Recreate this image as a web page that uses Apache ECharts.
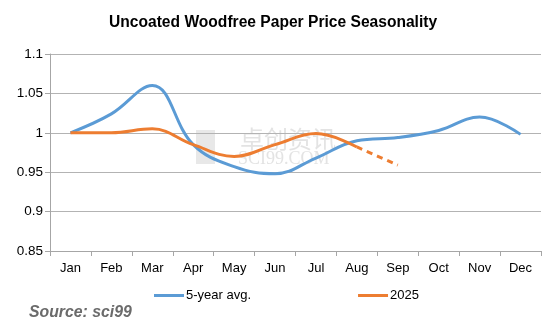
<!DOCTYPE html>
<html><head><meta charset="utf-8">
<script src="https://cdn.jsdelivr.net/npm/echarts@6/dist/echarts.min.js"></script>
<style>html,body{margin:0;padding:0;background:#fff}#c{width:553px;height:326px}</style>
</head><body><div id="c"></div>
<script>
var categories = ['Jan','Feb','Mar','Apr','May','Jun','Jul','Aug','Sep','Oct','Nov','Dec'];
var avg5 = [1.0, 1.024, 1.06, 0.985, 0.957, 0.948, 0.968, 0.99, 0.994, 1.003, 1.02, 0.998];
var y2025 = [1.0, 1.0, 1.005, 0.985, 0.97, 0.985, 0.999, 0.982];
var y2025est = [null, null, null, null, null, null, null, 0.982, 0.959];
var yTicks = [0.85, 0.9, 0.95, 1, 1.05, 1.1];

var chart = echarts.init(document.getElementById('c'));
var font = 'Liberation Sans, Arial, sans-serif';
chart.setOption({
  animation: false,
  title: { text: 'Uncoated Woodfree Paper Price Seasonality', left: 104, top: 10,
    textStyle: { fontFamily: font, fontSize: 15.6, fontWeight: 'bold', color: '#000' } },
  grid: { left: 50, right: 12, top: 54, bottom: 75 },
  xAxis: { type: 'category', data: categories, boundaryGap: true,
    axisLine: { lineStyle: { color: '#a6a6a6' } },
    axisTick: { show: true, alignWithLabel: false, length: 5, lineStyle: { color: '#a6a6a6' } },
    axisLabel: { color: '#000', fontFamily: font, fontSize: 13, margin: 11 } },
  yAxis: { type: 'value', min: 0.85, max: 1.1, interval: 0.05,
    axisLine: { show: true, lineStyle: { color: '#a6a6a6' } },
    axisTick: { show: true, length: 5, lineStyle: { color: '#a6a6a6' } },
    splitLine: { lineStyle: { color: '#b3b3b3' } },
    axisLabel: { color: '#000', fontFamily: font, fontSize: 13.5, margin: 7,
      formatter: function (v) { var t = yTicks.find(function (k) { return Math.abs(k - v) < 1e-6; }); return t === undefined ? '' : String(t); } } },
  legend: { bottom: 19, left: 149, itemGap: 107, itemWidth: 30, itemHeight: 3,
    textStyle: { fontFamily: font, fontSize: 13, color: '#000', padding: [0, 0, 0, -3] },
    data: [{ name: '5-year avg.', icon: 'rect' }, { name: '2025', icon: 'rect' }] },
  graphic: [
    { type: 'text', left: 29, top: 305, style: { text: 'Source: sci99', font: 'italic bold 15.8px ' + font, fill: '#6b6b6b' } },
    { type: 'rect', left: 196, top: 130, z: 0, shape: { width: 19, height: 34 }, style: { fill: 'rgba(205,205,205,0.45)' } },
    { type: 'text', left: 240, top: 127, z: 0, style: { text: '\u5353\u521b\u8d44\u8baf', font: '24px Noto Sans CJK SC', fill: 'rgba(200,200,200,0.5)' } },
    { type: 'text', left: 238, top: 150, z: 0, style: { text: 'SCI99.COM', font: '18px Liberation Serif', fill: 'rgba(200,200,200,0.5)' } }
  ],
  series: [
    { name: '5-year avg.', type: 'line', data: avg5, smooth: 0.4, showSymbol: false, symbol: 'none',
      lineStyle: { width: 3, color: '#5b9bd5' }, itemStyle: { color: '#5b9bd5' } },
    { name: '2025', type: 'line', data: y2025, smooth: 0.4, showSymbol: false, symbol: 'none',
      lineStyle: { width: 3, color: '#ed7d31' }, itemStyle: { color: '#ed7d31' } },
    { name: '2025est', type: 'line', data: y2025est, smooth: 0.4, showSymbol: false, symbol: 'none',
      lineStyle: { width: 3, color: '#ed7d31', type: [6, 5] }, itemStyle: { color: '#ed7d31' } }
  ]
});
</script></body></html>
